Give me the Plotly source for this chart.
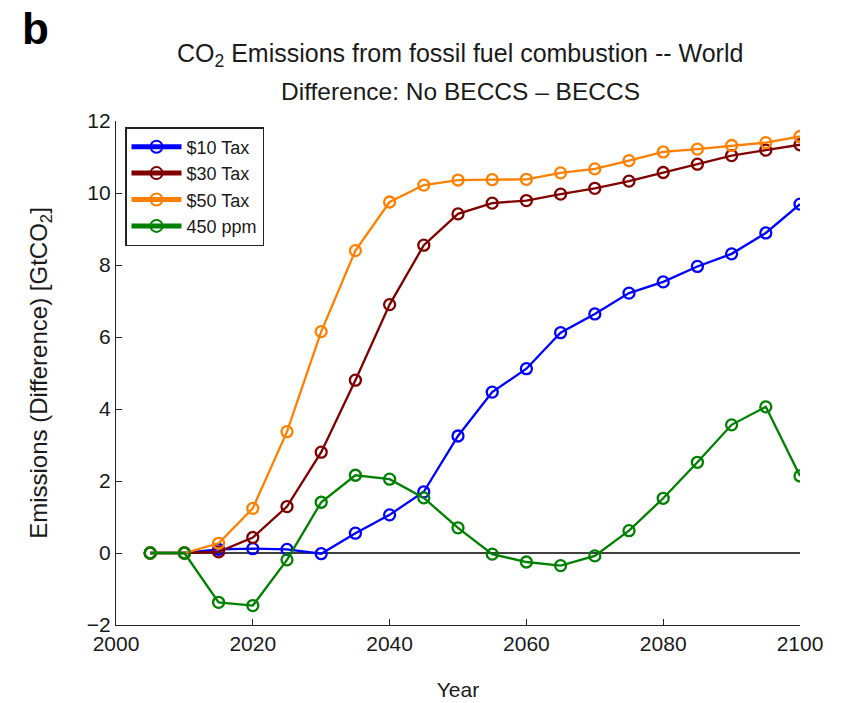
import plotly.graph_objects as go

years = [2005, 2010, 2015, 2020, 2025, 2030, 2035, 2040, 2045, 2050,
         2055, 2060, 2065, 2070, 2075, 2080, 2085, 2090, 2095, 2100]

tax10 = [0.0, 0.0, 0.1, 0.12, 0.1, -0.02, 0.55, 1.06, 1.7, 3.25,
         4.47, 5.12, 6.12, 6.64, 7.22, 7.53, 7.96, 8.31, 8.89, 9.69]
tax30 = [0.0, 0.0, 0.03, 0.43, 1.29, 2.8, 4.8, 6.9, 8.55, 9.42,
         9.72, 9.79, 9.97, 10.13, 10.33, 10.57, 10.8, 11.04, 11.19, 11.34]
tax50 = [0.0, 0.0, 0.27, 1.24, 3.37, 6.15, 8.4, 9.75, 10.22, 10.36,
         10.37, 10.38, 10.56, 10.67, 10.9, 11.14, 11.22, 11.32, 11.4, 11.57]
ppm450 = [0.0, 0.0, -1.37, -1.46, -0.19, 1.41, 2.16, 2.05, 1.53, 0.7,
          -0.03, -0.25, -0.35, -0.08, 0.62, 1.52, 2.52, 3.56, 4.06, 2.14]

series = [
    ("$10 Tax", tax10, "#0000ff"),
    ("$30 Tax", tax30, "#800000"),
    ("$50 Tax", tax50, "#ff8000"),
    ("450 ppm", ppm450, "#008000"),
]

x_ticks = [2000, 2020, 2040, 2060, 2080, 2100]
y_ticks = [-2, 0, 2, 4, 6, 8, 10, 12]

title_line1 = "CO<sub>2</sub> Emissions from fossil fuel combustion -- World"
title_line2 = "Difference: No BECCS – BECCS"

FONT = "Liberation Sans, Arial, Helvetica, sans-serif"
TXT = "#1a1a1a"

# page body has an 8px margin, so the figure is drawn 8px smaller
W, H = 843, 695
L, R, T, B = 108, 51, 113, 78
PH = H - T - B  # 504
PW = W - L - R  # 684


def py(px_img):
    """image y pixel -> paper y"""
    return (625 - px_img) / PH


def pxf(px_img):
    """image x pixel -> paper x"""
    return (px_img - 116) / PW


fig = go.Figure()

# zero reference line
fig.add_trace(go.Scatter(x=[years[0], years[-1]], y=[0, 0], mode="lines",
                         line=dict(color="black", width=1.5),
                         showlegend=False, hoverinfo="skip"))

for name, vals, color in series:
    fig.add_trace(go.Scatter(
        x=years, y=vals, name=name, mode="lines+markers",
        line=dict(color=color, width=2.3),
        marker=dict(symbol="circle-open", size=11, color=color,
                    line=dict(width=2.3, color=color)),
    ))

fig.update_layout(
    width=W, height=H,
    paper_bgcolor="white", plot_bgcolor="white",
    margin=dict(l=L, r=R, t=T, b=B, autoexpand=False),
    font=dict(family=FONT, size=21, color=TXT),
    legend=dict(
        x=pxf(125), y=py(127), xanchor="left", yanchor="top",
        bordercolor="#222222", borderwidth=1.5, bgcolor="white",
        font=dict(family=FONT, size=18, color=TXT),
        tracegroupgap=0, itemsizing="constant", itemwidth=50,
    ),
    xaxis=dict(
        range=[2000, 2100], tickvals=x_ticks, ticks="inside", ticklen=6,
        tickcolor="#222222", showline=True, linecolor="#222222", linewidth=1.3,
        showgrid=False, zeroline=False, mirror=False, automargin=False,
        title=dict(text="Year", font=dict(size=21), standoff=27),
        tickfont=dict(size=21),
    ),
    yaxis=dict(
        range=[-2, 12], tickvals=y_ticks, ticks="inside", ticklen=6,
        tickcolor="#222222", showline=True, linecolor="#222222", linewidth=1.3,
        showgrid=False, zeroline=False, mirror=False, automargin=False,
        title=dict(text="Emissions (Difference) [GtCO<sub>2</sub>]",
                   font=dict(size=24), standoff=32),
        tickfont=dict(size=21),
    ),
)

fig.add_annotation(text=title_line1, xref="paper", yref="paper",
                   x=pxf(460), y=py(55), xanchor="center", yanchor="middle",
                   showarrow=False, font=dict(family=FONT, size=25, color=TXT))
fig.add_annotation(text=title_line2, xref="paper", yref="paper",
                   x=pxf(460), y=py(91), xanchor="center", yanchor="middle",
                   showarrow=False, font=dict(family=FONT, size=24.5, color=TXT))

fig.add_annotation(text="<b>b</b>", xref="paper", yref="paper",
                   x=pxf(20), y=py(28), xanchor="left", yanchor="middle",
                   showarrow=False, font=dict(family=FONT, size=44, color="black"))

fig.write_html("out.html")
